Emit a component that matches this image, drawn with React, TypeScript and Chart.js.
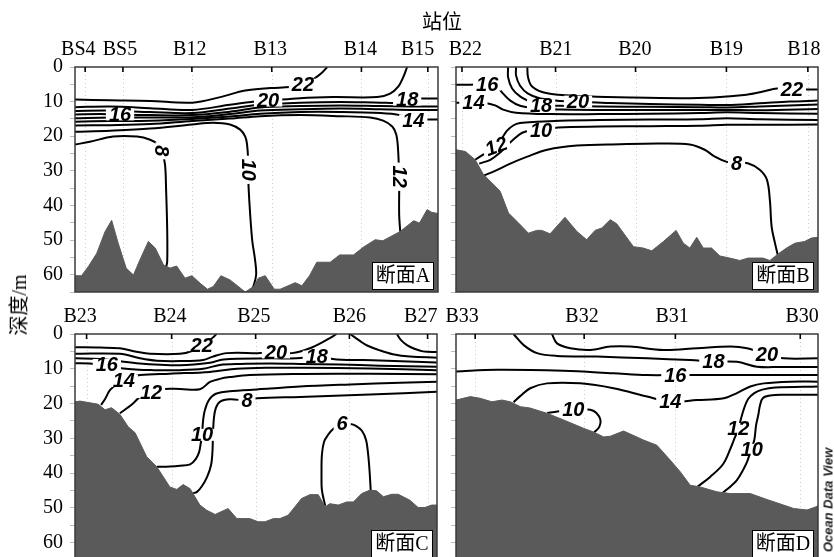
import React, { useEffect, useRef } from "react";
import { Chart, registerables } from "chart.js";

Chart.register(...registerables);

type Pt = [number, number];
type Lbl = [string, number, number, number];

// ---------- shared axis values ----------
const DEPTH_MAX = 65;
const DEPTH_STEP = 5;
const DEPTH_LABEL_STEP = 10;
const DIST_MAX = 100;

// ---------- Panel A (断面A) ----------
const stationsA = ["BS4", "BS5", "B12", "B13", "B14", "B15"];
const stationPosA = [2.8, 13.2, 32.2, 54.2, 78.9, 97.2];
const stationLabelPosA = [0.9, 12.4, 31.6, 53.8, 78.6, 94.4];
const bathyA: Pt[] = [
  [0, 60.3], [1.8, 60.3], [3.7, 57.6], [6.0, 53.8], [8.3, 47.5], [10.1, 44.3], [11.9, 50.9], [14.1, 58.1],
  [16.1, 60.1], [17.9, 55.7], [20.2, 50.4], [22.1, 52.3], [24.4, 57.2], [26.2, 58.1], [28.0, 57.5], [30.3, 61.0],
  [32.2, 60.3], [34.5, 62.5], [36.5, 64.2], [38.1, 63.4], [40.2, 60.3], [42.7, 61.5], [46.9, 65], [49.2, 63.4],
  [50.5, 61.0], [52.4, 60.3], [54.9, 64.2], [56.5, 64.2], [60.7, 62.3], [62.5, 63.2], [64.6, 60.3], [66.6, 56.4],
  [70.3, 56.4], [72.9, 54.3], [76.7, 54.3], [79.5, 52.0], [82.7, 49.9], [84.8, 50.2], [89.6, 47.5], [93.3, 44.4],
  [94.9, 45.1], [97.0, 41.2], [98.3, 42.0], [100, 42.3],
];
const c22A: Pt[] = [[0, 9.4], [9.7, 9.6], [20.7, 9.8], [32.3, 10.3], [40.0, 8.7], [46.9, 6.8], [53.8, 6.1], [59.3, 5.8], [63.4, 5.1], [66.4, 3.0], [68.1, 1.6], [69.5, 0]];
const c20A: Pt[] = [[0, 11.6], [9.7, 11.4], [20.7, 11.9], [32.3, 12.4], [42.7, 10.9], [49.6, 10.0], [53.8, 9.7], [62.0, 9.0], [71.1, 8.7], [83.3, 8.7], [86.8, 7.7], [89.1, 5.6], [90.4, 3.0], [91.5, 0]];
const c18A: Pt[] = [[0, 12.7], [9.7, 12.6], [20.7, 13.0], [32.3, 13.3], [42.7, 12.0], [51.0, 10.9], [62.0, 10.3], [73.1, 10.1], [84.1, 10.3], [88.8, 10.3], [91.5, 9.4], [95.1, 9.1], [100, 9.1]];
const c16A: Pt[] = [[0, 13.7], [6.9, 13.6], [12.4, 13.7], [20.7, 13.9], [32.3, 13.9], [42.7, 12.9], [51.0, 11.7], [62.0, 11.3], [73.1, 11.1], [84.1, 11.3], [92.4, 11.4], [100, 11.4]];
const c15A: Pt[] = [[0, 14.8], [9.7, 14.6], [20.7, 14.6], [32.3, 14.5], [42.7, 13.6], [51.0, 12.6], [62.0, 12.2], [73.1, 12.0], [84.1, 12.2], [92.4, 12.4], [100, 12.4]];
const c14A: Pt[] = [[0, 15.8], [9.7, 15.6], [20.7, 15.5], [32.3, 15.0], [42.7, 14.3], [51.0, 13.5], [62.0, 13.0], [73.1, 13.0], [84.1, 13.3], [89.6, 13.9], [93.2, 15.2], [96.5, 15.2], [100, 15.2]];
const c12A: Pt[] = [[0, 16.9], [9.7, 16.8], [20.7, 16.5], [32.3, 15.6], [42.7, 14.9], [51.0, 14.2], [62.0, 13.9], [73.1, 14.2], [81.3, 14.6], [84.9, 15.5], [87.4, 17.2], [88.5, 19.5], [89.0, 23.9], [89.3, 32.6], [89.3, 42.7], [89.6, 47.6]];
const c10A: Pt[] = [[0, 18.7], [9.7, 18.4], [20.7, 17.8], [32.3, 16.6], [38.0, 16.1], [42.7, 16.6], [45.5, 18.1], [46.9, 20.1], [47.4, 22.4], [47.7, 26.8], [47.7, 31.1], [48.0, 38.3], [48.8, 49.9], [49.6, 55.7], [49.9, 60.1], [49.1, 63.5], [48.5, 65.3]];
const c8A: Pt[] = [[0, 22.4], [4.1, 21.6], [10.5, 20.1], [17.1, 20.1], [20.7, 21.0], [22.9, 22.4], [24.0, 24.5], [24.8, 28.2], [25.1, 35.5], [25.4, 47.0], [25.4, 56.3], [25.1, 57.8]];
const labelsA: Lbl[] = [
  ["22", 62.8, 5.1, 0], ["20", 53.2, 9.7, 0], ["18", 91.5, 9.4, 0], ["16", 12.4, 13.7, 0],
  ["14", 93.2, 15.4, 0], ["12", 89.3, 31.7, 90], ["10", 47.7, 29.7, 90], ["8", 23.8, 24.2, 90],
];

// ---------- Panel B (断面B) ----------
const stationsB = ["B22", "B21", "B20", "B19", "B18"];
const stationPosB = [1.65, 27.5, 49.6, 74.7, 97.2];
const stationLabelPosB = [2.6, 27.6, 49.4, 74.7, 96.1];
const bathyB: Pt[] = [
  [0, 23.9], [2.6, 24.4], [5.3, 26.8], [7.6, 31.1], [12.2, 35.9], [14.5, 42.2], [17.3, 45.1], [20.0, 48.0],
  [22.3, 47.2], [23.7, 47.2], [26.0, 48.2], [30.1, 43.4], [33.4, 47.5], [36.1, 49.9], [38.4, 47.2], [40.3, 46.5],
  [42.6, 44.1], [44.4, 45.3], [49.0, 51.9], [51.7, 52.3], [54.1, 53.1], [57.3, 50.4], [60.8, 47.2], [62.8, 50.9],
  [64.6, 52.3], [66.5, 49.2], [68.3, 52.3], [70.6, 52.3], [72.9, 54.6], [75.6, 55.2], [78.4, 55.9], [80.7, 55.2],
  [84.8, 55.2], [86.7, 55.9], [89.0, 54.0], [91.3, 52.3], [93.6, 50.9], [96.3, 50.4], [98.2, 49.4], [100, 49.2],
];
const c22B: Pt[] = [[19.7, 0], [19.9, 3.0], [21.0, 5.6], [24.9, 7.5], [34.3, 8.4], [48.1, 8.8], [61.9, 9.0], [71.0, 8.8], [80.3, 8.0], [84.8, 7.1], [88.7, 6.2], [92.8, 6.4], [100, 6.5]];
const c20B: Pt[] = [[16.6, 0], [16.6, 2.5], [17.7, 5.4], [19.9, 7.7], [23.3, 9.1], [28.8, 9.8], [33.7, 10.0], [42.6, 10.4], [53.6, 10.7], [67.4, 10.9], [74.8, 11.0], [83.9, 10.5], [92.2, 10.0], [100, 9.7]];
const c18B: Pt[] = [[14.4, 0], [14.4, 3.0], [15.5, 6.2], [17.7, 8.5], [20.5, 10.0], [23.3, 10.9], [28.8, 11.2], [39.8, 11.4], [53.6, 11.5], [67.4, 11.6], [74.8, 11.7], [83.9, 11.4], [100, 10.8]];
const c16B: Pt[] = [[0, 5.1], [3.9, 5.1], [8.6, 5.1], [11.4, 5.9], [13.0, 7.7], [15.0, 9.7], [17.7, 11.2], [22.1, 12.0], [28.8, 12.3], [39.8, 12.4], [53.6, 12.4], [67.4, 12.4], [74.8, 12.4], [83.9, 12.5], [100, 12.1]];
const c14B: Pt[] = [[0, 10.3], [2.0, 10.3], [4.8, 10.3], [8.1, 10.4], [10.8, 11.1], [13.0, 12.3], [16.6, 13.2], [26.0, 13.6], [39.8, 13.6], [53.6, 13.5], [67.4, 13.3], [74.8, 13.1], [83.9, 13.3], [100, 13.5]];
const c12B: Pt[] = [[5.3, 26.8], [7.5, 25.3], [9.5, 23.9], [11.4, 22.7], [12.8, 20.4], [14.1, 18.4], [15.8, 16.9], [17.7, 16.2], [22.4, 15.8], [28.8, 15.5], [39.8, 15.3], [53.6, 15.2], [67.4, 15.1], [74.8, 14.8], [83.9, 15.1], [100, 15.3]];
const c10B: Pt[] = [[6.4, 27.9], [9.5, 26.8], [12.2, 24.7], [14.1, 22.7], [16.1, 20.7], [18.3, 19.0], [20.5, 18.4], [23.5, 18.4], [28.2, 17.5], [39.8, 17.2], [53.6, 17.1], [67.4, 17.0], [74.8, 16.7], [83.9, 16.7], [100, 16.6]];
const c8B: Pt[] = [[7.5, 31.4], [10.8, 30.0], [15.0, 27.9], [19.7, 25.9], [25.2, 23.9], [33.4, 22.7], [45.3, 22.3], [56.3, 22.1], [64.6, 22.4], [68.7, 23.9], [71.5, 25.9], [74.8, 27.4], [77.5, 27.8], [80.6, 27.8], [83.9, 29.7], [85.9, 32.6], [86.7, 38.4], [87.2, 46.2], [88.1, 50.8], [88.9, 54.4]];
const labelsB: Lbl[] = [
  ["16", 8.6, 5.1, 0], ["14", 4.8, 10.3, 0], ["18", 23.5, 11.0, 0], ["20", 33.7, 10.0, 0],
  ["22", 92.8, 6.4, 0], ["12", 11.1, 22.9, -20], ["10", 23.5, 18.4, 0], ["8", 77.5, 27.8, 0],
];

// ---------- Panel C (断面C) ----------
const stationsC = ["B23", "B24", "B25", "B26", "B27"];
const stationPosC = [3.2, 26.7, 49.9, 75.8, 97.4];
const stationLabelPosC = [1.4, 26.2, 49.4, 75.8, 95.5];
const bathyC: Pt[] = [
  [0, 19.5], [1.4, 19.3], [6.4, 20.2], [8.3, 21.8], [10.1, 21.2], [12.4, 23.1], [14.7, 26.7], [16.6, 28.4],
  [19.8, 35.3], [22.6, 38.2], [26.2, 44.0], [28.1, 44.7], [29.9, 43.3], [31.8, 44.5], [34.5, 49.2], [36.4, 50.7],
  [38.7, 51.9], [42.3, 50.2], [44.7, 53.1], [48.3, 53.1], [50.6, 54.0], [52.5, 54.0], [54.8, 53.1], [56.6, 53.1],
  [58.9, 52.1], [62.6, 47.3], [64.9, 46.2], [67.2, 46.2], [69.1, 49.7], [70.4, 48.8], [72.7, 49.2], [75.1, 48.3],
  [76.9, 48.3], [79.2, 45.9], [81.5, 44.9], [83.3, 45.1], [85.2, 46.8], [87.5, 46.1], [89.3, 46.1], [92.5, 47.8],
  [94.8, 49.9], [96.7, 49.9], [98.5, 49.2], [100, 49.2],
];
const c22C: Pt[] = [[0, 3.8], [6.9, 3.9], [12.4, 4.1], [17.0, 5.1], [20.7, 5.7], [29.0, 5.7], [33.1, 4.6], [35.1, 3.2], [37.3, 1.7], [38.4, 0.7], [39.1, 0]];
const c22C2: Pt[] = [[88.9, 0], [90.0, 1.7], [91.7, 3.2], [93.9, 4.3], [96.1, 5.0], [100, 5.2]];
const c20C: Pt[] = [[0, 5.7], [12.4, 5.7], [18.0, 7.0], [22.6, 7.7], [29.0, 7.8], [35.4, 7.5], [38.1, 6.5], [41.9, 5.5], [51.1, 5.5], [55.5, 5.3], [59.9, 5.5], [64.9, 4.1], [69.5, 1.7], [72.3, 0]];
const c20C2: Pt[] = [[76.0, 0], [78.7, 2.0], [80.7, 3.3], [84.2, 4.7], [87.8, 5.8], [92.5, 6.5], [100, 6.8]];
const c18C: Pt[] = [[0, 7.0], [6.9, 7.2], [17.0, 8.4], [29.0, 9.0], [37.3, 8.3], [41.0, 7.3], [53.9, 7.0], [61.2, 7.0], [66.8, 6.5], [72.3, 7.3], [84.2, 7.6], [100, 8.2]];
const c16C: Pt[] = [[0, 8.4], [4.1, 8.5], [8.8, 8.9], [13.3, 9.9], [21.6, 10.4], [29.0, 10.4], [35.4, 10.0], [40.0, 8.9], [45.6, 8.6], [53.9, 8.5], [62.1, 8.6], [73.2, 8.8], [84.2, 9.1], [100, 9.4]];
const c14C: Pt[] = [[7.2, 20.4], [8.3, 18.7], [9.7, 16.1], [11.6, 14.4], [13.5, 13.5], [16.0, 12.4], [18.0, 11.8], [26.2, 11.4], [37.3, 10.9], [44.7, 10.0], [53.9, 9.7], [63.0, 9.7], [81.5, 9.9], [100, 10.4]];
const c12C: Pt[] = [[12.4, 22.8], [14.4, 21.3], [16.1, 19.9], [18.0, 18.0], [19.6, 17.1], [21.3, 16.8], [23.5, 15.9], [29.0, 15.8], [34.5, 15.9], [37.3, 13.8], [40.0, 12.9], [42.8, 12.4], [48.3, 11.8], [63.0, 11.5], [81.5, 11.4], [100, 11.6]];
const c10C: Pt[] = [[22.6, 38.2], [26.2, 38.1], [29.0, 37.9], [31.8, 37.5], [33.4, 35.9], [34.3, 33.9], [34.8, 31.0], [35.1, 29.0], [35.4, 24.7], [35.9, 21.8], [37.0, 19.0], [38.9, 17.2], [43.6, 16.4], [53.9, 15.7], [62.1, 15.1], [76.0, 14.5], [89.8, 14.0], [100, 13.7]];
const c8C: Pt[] = [[32.6, 45.8], [33.7, 45.4], [35.1, 43.7], [36.5, 41.1], [37.6, 37.6], [38.0, 33.3], [38.1, 29.0], [38.4, 23.9], [38.9, 21.3], [40.0, 19.5], [42.8, 18.8], [47.5, 19.1], [50.3, 18.5], [62.1, 18.1], [81.5, 17.4], [100, 16.6]];
const c6C: Pt[] = [[69.1, 49.4], [68.2, 44.8], [68.1, 40.5], [68.2, 34.8], [68.8, 31.0], [69.9, 29.0], [71.3, 27.3], [73.5, 25.9], [76.0, 25.9], [77.6, 26.4], [79.3, 27.9], [80.4, 30.5], [81.0, 34.8], [81.4, 39.9], [81.7, 45.2]];
const labelsC: Lbl[] = [
  ["22", 35.0, 3.2, 0], ["20", 55.5, 5.3, 0], ["18", 66.8, 6.5, 0], ["16", 8.8, 8.9, 0], ["14", 13.5, 13.5, 0],
  ["12", 21.0, 16.7, 0], ["10", 35.1, 29.0, 0], ["8", 47.5, 19.1, 0], ["6", 73.8, 25.8, 0],
];

// ---------- Panel D (断面D) ----------
const stationsD = ["B33", "B32", "B31", "B30"];
const stationPosD = [5.3, 35.4, 60.6, 95.1];
const stationLabelPosD = [1.7, 34.8, 59.7, 95.6];
const bathyD: Pt[] = [
  [0, 19.0], [4.0, 18.0], [6.7, 18.5], [9.9, 19.5], [12.7, 19.0], [15.0, 19.5], [17.8, 20.9], [20.5, 21.3],
  [25.1, 22.8], [29.7, 24.7], [35.2, 27.1], [38.0, 28.2], [40.8, 29.6], [42.6, 29.4], [46.3, 27.9], [51.8, 30.5],
  [55.5, 32.0], [59.2, 36.3], [62.0, 39.7], [64.7, 43.5], [67.5, 44.0], [72.1, 45.4], [75.8, 45.9], [81.3, 45.9],
  [85.9, 47.6], [90.5, 49.2], [93.3, 50.2], [97.0, 50.6], [100, 49.5],
];
const c20D: Pt[] = [[26.5, 0], [27.9, 2.7], [31.6, 4.1], [37.1, 4.6], [42.6, 3.6], [48.1, 3.6], [57.3, 4.6], [66.6, 4.1], [75.8, 3.6], [80.4, 4.1], [85.9, 6.0], [90.5, 7.0], [100, 7.0]];
const c18D: Pt[] = [[15.9, 0], [18.7, 3.2], [22.4, 5.5], [27.9, 6.3], [38.9, 6.5], [52.8, 7.0], [64.7, 7.5], [71.1, 7.9], [77.6, 8.0], [83.1, 9.4], [89.6, 9.5], [100, 9.5]];
const c16D: Pt[] = [[0, 10.8], [11.3, 10.3], [29.7, 10.6], [43.5, 11.3], [52.8, 11.8], [60.6, 11.8], [66.6, 11.8], [85.0, 11.8], [100, 11.8]];
const c14D: Pt[] = [[15.9, 19.6], [17.8, 17.8], [20.5, 15.6], [25.1, 14.2], [34.3, 14.2], [43.5, 15.6], [52.8, 18.0], [59.2, 19.5], [66.6, 19.0], [74.0, 18.5], [77.6, 17.0], [81.3, 15.1], [85.0, 14.2], [92.3, 13.7], [100, 13.7]];
const c12D: Pt[] = [[66.6, 44.0], [70.2, 41.1], [73.8, 37.4], [76.0, 32.5], [77.1, 29.6], [78.0, 27.3], [78.8, 24.1], [79.6, 21.3], [80.7, 18.7], [82.4, 17.0], [84.6, 16.0], [88.2, 15.4], [100, 15.1]];
const c10D: Pt[] = [[73.5, 45.8], [76.0, 43.7], [77.6, 42.0], [79.3, 39.1], [80.4, 36.8], [81.5, 33.3], [82.4, 30.5], [82.9, 26.2], [83.5, 23.3], [84.0, 20.4], [84.8, 18.4], [86.8, 17.7], [90.4, 17.5], [100, 17.5]];
const c10D2: Pt[] = [[25.2, 22.7], [28.0, 22.3], [30.7, 21.8], [32.4, 21.6], [34.3, 21.6], [37.1, 21.8], [38.8, 22.7], [39.9, 24.7], [39.6, 26.7], [38.2, 28.3]];
const labelsD: Lbl[] = [
  ["20", 85.9, 6.0, 0], ["18", 71.1, 7.9, 0], ["16", 60.6, 11.8, 0], ["14", 59.2, 19.5, 0],
  ["12", 78.0, 27.3, 0], ["10", 81.7, 33.3, 0], ["10", 32.4, 21.6, 0],
];

// ---------- styles ----------
const SERIF = '"Liberation Serif", "Noto Sans CJK SC", serif';
const LABEL_FONT = 'italic bold 20px "Liberation Sans", Arial, sans-serif';
const BATHY_COLOR = "#5a5a5a";
const FRAME_COLOR = "#3a3a3a";

interface PanelSpec {
  name: string;
  stations: string[];
  stationPos: number[];
  stationLabelPos: number[];
  bathy: Pt[];
  contours: Pt[][];
  labels: Lbl[];
  showDepth: boolean;
  height: number;
  padding: { left: number; top: number; right: number; bottom: number };
}

const panels: PanelSpec[] = [
  { name: "断面A", stations: stationsA, stationPos: stationPosA, stationLabelPos: stationLabelPosA, bathy: bathyA,
    contours: [c22A, c20A, c18A, c16A, c15A, c14A, c12A, c10A, c8A], labels: labelsA, showDepth: true,
    height: 557, padding: { left: 35, top: 67, right: 396, bottom: 265 } },
  { name: "断面B", stations: stationsB, stationPos: stationPosB, stationLabelPos: stationLabelPosB, bathy: bathyB,
    contours: [c22B, c20B, c18B, c16B, c14B, c12B, c10B, c8B], labels: labelsB, showDepth: false,
    height: 557, padding: { left: 416, top: 67, right: 16, bottom: 265 } },
  { name: "断面C", stations: stationsC, stationPos: stationPosC, stationLabelPos: stationLabelPosC, bathy: bathyC,
    contours: [c22C, c22C2, c20C, c20C2, c18C, c16C, c14C, c12C, c10C, c8C, c6C], labels: labelsC, showDepth: true,
    height: 600, padding: { left: 35, top: 334, right: 397, bottom: 40 } },
  { name: "断面D", stations: stationsD, stationPos: stationPosD, stationLabelPos: stationLabelPosD, bathy: bathyD,
    contours: [c20D, c18D, c16D, c14D, c12D, c10D, c10D2], labels: labelsD, showDepth: false,
    height: 600, padding: { left: 416, top: 334, right: 16, bottom: 40 } },
];

function makeDecor(spec: PanelSpec) {
  return {
    id: "sectionDecor",
    beforeDatasetsDraw(chart: any) {
      const { ctx, chartArea: ca } = chart;
      const xs = chart.scales.x;
      ctx.save();
      ctx.strokeStyle = "#cdcdcd";
      ctx.lineWidth = 1;
      ctx.setLineDash([1, 3]);
      spec.stationPos.forEach((p) => {
        const px = Math.round(xs.getPixelForValue(p)) + 0.5;
        ctx.beginPath();
        ctx.moveTo(px, ca.top);
        ctx.lineTo(px, ca.bottom);
        ctx.stroke();
      });
      ctx.restore();
    },
    afterDatasetsDraw(chart: any) {
      const { ctx, chartArea: ca } = chart;
      const xs = chart.scales.x;
      const ys = chart.scales.y;
      // contour labels
      ctx.save();
      ctx.beginPath();
      ctx.rect(ca.left, ca.top, ca.right - ca.left, ca.bottom - ca.top);
      ctx.clip();
      ctx.font = LABEL_FONT;
      ctx.textAlign = "center";
      ctx.textBaseline = "middle";
      spec.labels.forEach(([t, x, d, rot]) => {
        const px = xs.getPixelForValue(x);
        const py = ys.getPixelForValue(d);
        const w = ctx.measureText(t).width;
        ctx.save();
        ctx.translate(px, py);
        ctx.rotate((rot * Math.PI) / 180);
        ctx.fillStyle = "#fff";
        ctx.fillRect(-w / 2 - 3, -6, w + 6, 12);
        ctx.fillStyle = "#000";
        ctx.fillText(t, 0, 1);
        ctx.restore();
      });
      ctx.restore();

      // section name box
      ctx.save();
      const bw = 62;
      const bh = 28;
      const bx = ca.right - 4 - bw;
      const by = ca.bottom - 2 - bh;
      ctx.fillStyle = "#fff";
      ctx.fillRect(bx, by, bw, bh);
      ctx.strokeStyle = "#000";
      ctx.lineWidth = 1;
      ctx.strokeRect(bx + 0.5, by + 0.5, bw - 1, bh - 1);
      ctx.fillStyle = "#000";
      ctx.font = "20px " + SERIF;
      ctx.textAlign = "center";
      ctx.textBaseline = "middle";
      ctx.fillText(spec.name, bx + bw / 2, by + bh / 2 + 1);
      ctx.restore();

      // frame
      ctx.save();
      ctx.strokeStyle = FRAME_COLOR;
      ctx.lineWidth = 1.5;
      ctx.strokeRect(ca.left, ca.top, ca.right - ca.left, ca.bottom - ca.top);
      // inward station ticks
      ctx.strokeStyle = "#000";
      ctx.lineWidth = 1.6;
      spec.stationPos.forEach((p) => {
        const px = xs.getPixelForValue(p);
        ctx.beginPath();
        ctx.moveTo(px, ca.top);
        ctx.lineTo(px, ca.top + 5);
        ctx.stroke();
      });
      // station names
      ctx.fillStyle = "#000";
      ctx.font = "20px " + SERIF;
      ctx.textAlign = "center";
      ctx.textBaseline = "middle";
      spec.stations.forEach((s, i) => {
        ctx.fillText(s, xs.getPixelForValue(spec.stationLabelPos[i]), ca.top - 17);
      });
      ctx.restore();
    },
  };
}

function Panel({ spec }: { spec: PanelSpec }) {
  const ref = useRef<HTMLCanvasElement>(null);
  useEffect(() => {
    const canvas = ref.current;
    if (!canvas) return;
    const toXY = (pts: Pt[]) => pts.map(([x, y]) => ({ x, y }));
    const datasets: any[] = [
      {
        data: toXY(spec.bathy),
        borderColor: BATHY_COLOR,
        backgroundColor: BATHY_COLOR,
        borderWidth: 1,
        pointRadius: 0,
        tension: 0,
        fill: { value: DEPTH_MAX },
        order: 0,
      },
      ...spec.contours.map((c) => ({
        data: toXY(c),
        borderColor: "#000",
        borderWidth: 2,
        pointRadius: 0,
        tension: 0.35,
        fill: false,
        order: 2,
      })),
    ];
    const chart = new Chart(canvas, {
      type: "line",
      data: { datasets },
      options: {
        animation: false,
        responsive: false,
        events: [],
        layout: { padding: spec.padding },
        plugins: { legend: { display: false }, tooltip: { enabled: false } },
        scales: {
          x: { type: "linear", min: 0, max: DIST_MAX, display: false },
          y: {
            type: "linear",
            reverse: true,
            min: 0,
            max: DEPTH_MAX,
            afterFit: (s: any) => {
              s.width = 40;
            },
            ticks: {
              stepSize: DEPTH_STEP,
              autoSkip: false,
              color: "#000",
              padding: 7,
              font: { family: '"Liberation Serif", serif', size: 20 },
              callback: (v: any) =>
                spec.showDepth && Number(v) % DEPTH_LABEL_STEP === 0 && Number(v) < DEPTH_MAX ? String(v) : "",
            },
            grid: { drawOnChartArea: false, drawTicks: true, tickLength: 5, color: "#bdbdbd", lineWidth: 1 },
            border: { display: false },
          },
        },
      } as any,
      plugins: [makeDecor(spec) as any],
    });
    return () => chart.destroy();
  }, [spec]);
  return (
    <canvas
      ref={ref}
      width={834}
      height={spec.height}
      style={{ position: "absolute", left: 0, top: 0, width: 834, height: spec.height }}
    />
  );
}

export default function App() {
  return (
    <div
      style={{
        position: "fixed",
        left: 0,
        top: 0,
        width: 834,
        height: 557,
        overflow: "hidden",
        background: "#fff",
      }}
    >
      {panels.map((p) => (
        <Panel key={p.name} spec={p} />
      ))}
      <div
        style={{
          position: "absolute",
          left: 442,
          top: 22,
          transform: "translate(-50%, -50%)",
          font: "20px " + SERIF,
          lineHeight: 1,
          whiteSpace: "nowrap",
          color: "#000",
        }}
      >
        站位
      </div>
      <div
        style={{
          position: "absolute",
          left: 19,
          top: 305,
          transform: "translate(-50%, -50%) rotate(-90deg)",
          font: "20px " + SERIF,
          lineHeight: 1,
          whiteSpace: "nowrap",
          color: "#000",
        }}
      >
        深度/m
      </div>
      <div
        style={{
          position: "absolute",
          left: 828,
          top: 500,
          transform: "translate(-50%, -50%) rotate(-90deg)",
          font: 'italic bold 13px "Liberation Sans", Arial, sans-serif',
          lineHeight: 1,
          whiteSpace: "nowrap",
          color: "#222",
        }}
      >
        Ocean Data View
      </div>
    </div>
  );
}
